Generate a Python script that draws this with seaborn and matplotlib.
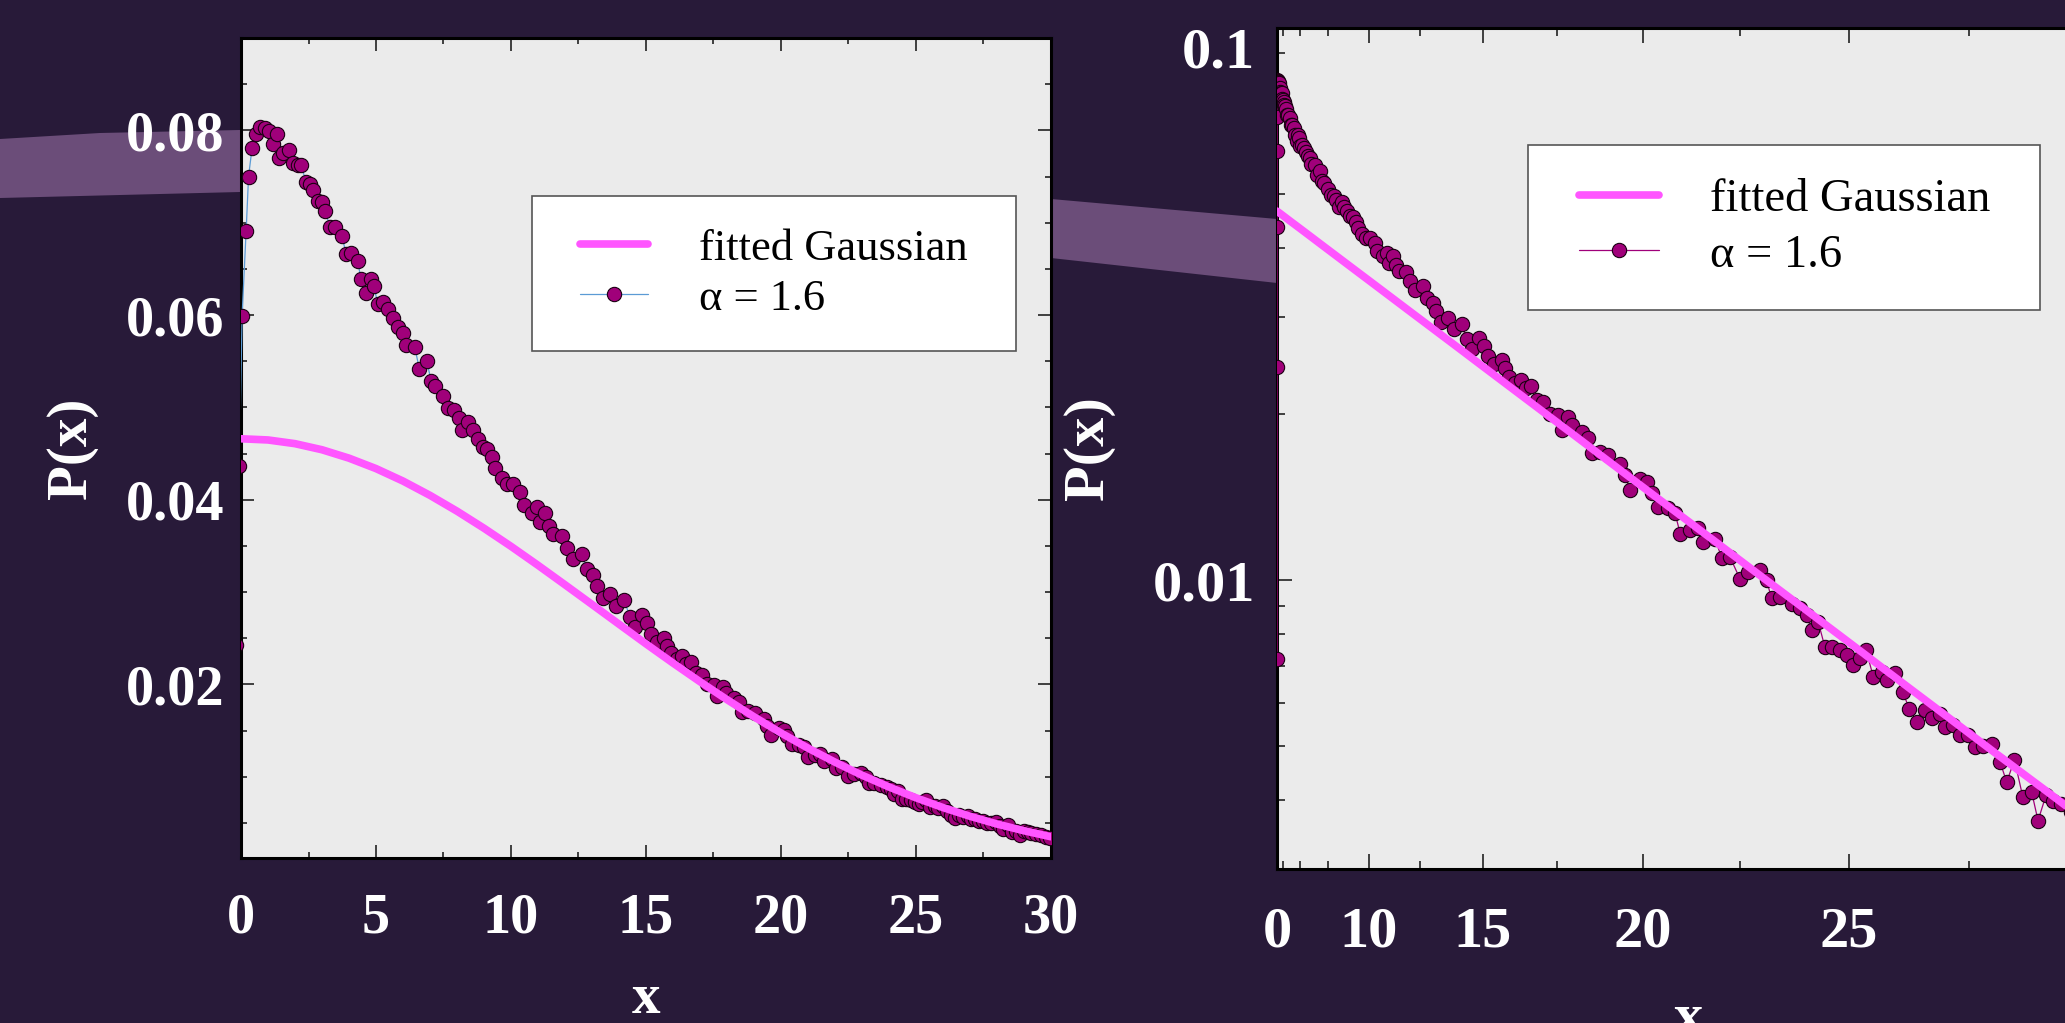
import numpy as np
import matplotlib
matplotlib.use("Agg")
import matplotlib.pyplot as plt
import seaborn as sns
from matplotlib.patches import Polygon
from matplotlib.path import Path
from matplotlib.lines import Line2D
from matplotlib.legend_handler import HandlerLine2D
from matplotlib.ticker import (MultipleLocator, FixedLocator, FixedFormatter,
                               NullFormatter, FuncFormatter, FormatStrFormatter)

x_data = [-0.3, -0.2, -0.06, 0.04, 0.19, 0.28, 0.41, 0.56, 0.70, 0.89,
          1.04, 1.17, 1.32, 1.41, 1.54, 1.77, 1.91, 2.10, 2.22, 2.41,
          2.56, 2.67, 2.84, 3.00, 3.11, 3.30, 3.48, 3.74, 3.89, 4.07,
          4.32, 4.44, 4.63, 4.81, 4.93, 5.06, 5.25, 5.43, 5.62, 5.80,
          5.99, 6.10, 6.44, 6.60, 6.88, 7.04, 7.20, 7.48, 7.65, 7.89,
          8.06, 8.20, 8.40, 8.58, 8.77, 8.96, 9.10, 9.29, 9.41, 9.66,
          9.84, 10.08, 10.33, 10.48, 10.77, 10.96, 11.07, 11.26, 11.41, 11.56,
          11.88, 12.06, 12.30, 12.62, 12.80, 13.04, 13.20, 13.40, 13.67, 13.90,
          14.20, 14.40, 14.60, 14.84, 15.03, 15.20, 15.40, 15.67, 15.79, 15.93,
          16.13, 16.32, 16.50, 16.65, 16.85, 17.06, 17.27, 17.53, 17.64, 17.84,
          17.95, 18.25, 18.44, 18.55, 18.79, 19.03, 19.36, 19.50, 19.64, 19.92,
          20.10, 20.24, 20.41, 20.68, 20.86, 20.99, 21.25, 21.46, 21.58, 21.88,
          22.05, 22.25, 22.49, 22.70, 22.98, 23.13, 23.25, 23.45, 23.72, 23.91,
          24.06, 24.17, 24.32, 24.47, 24.62, 24.81, 24.95, 25.10, 25.24, 25.37,
          25.53, 25.71, 25.81, 25.99, 26.15, 26.29, 26.44, 26.61, 26.75, 26.92,
          27.02, 27.19, 27.32, 27.49, 27.62, 27.78, 27.95, 28.11, 28.24, 28.39,
          28.55, 28.72, 28.84, 28.99, 29.13, 29.27, 29.45, 29.62, 29.80, 29.95]
p_data = [0.0072, 0.0243, 0.0437, 0.0599, 0.0691, 0.0750, 0.0781, 0.0796, 0.0804, 0.0803,
          0.0799, 0.0785, 0.0796, 0.0770, 0.0775, 0.0779, 0.0765, 0.0762, 0.0763, 0.0744,
          0.0742, 0.0735, 0.0724, 0.0722, 0.0713, 0.0695, 0.0695, 0.0686, 0.0666, 0.0667,
          0.0659, 0.0639, 0.0624, 0.0639, 0.0631, 0.0612, 0.0614, 0.0607, 0.0597, 0.0587,
          0.0581, 0.0567, 0.0565, 0.0542, 0.0550, 0.0529, 0.0523, 0.0512, 0.0499, 0.0497,
          0.0488, 0.0475, 0.0484, 0.0475, 0.0466, 0.0457, 0.0455, 0.0446, 0.0434, 0.0424,
          0.0417, 0.0417, 0.0408, 0.0394, 0.0386, 0.0392, 0.0376, 0.0386, 0.0372, 0.0363,
          0.0361, 0.0348, 0.0336, 0.0341, 0.0325, 0.0318, 0.0307, 0.0294, 0.0298, 0.0285,
          0.0291, 0.0273, 0.0262, 0.0275, 0.0266, 0.0255, 0.0246, 0.02505, 0.0242, 0.02335,
          0.02272, 0.02303, 0.02225, 0.02246, 0.02119, 0.02104, 0.02004, 0.01990, 0.01869, 0.01976,
          0.01909, 0.01857, 0.01806, 0.01697, 0.01708, 0.01685, 0.01627, 0.01550, 0.01456, 0.01528,
          0.01507, 0.01436, 0.01358, 0.01349, 0.01321, 0.01215, 0.01232, 0.01241, 0.01174, 0.01190,
          0.01095, 0.01102, 0.01007, 0.01035, 0.01042, 0.01000, 0.00927, 0.00933, 0.00907, 0.00889,
          0.00865, 0.00812, 0.00841, 0.00757, 0.00757, 0.00747, 0.00731, 0.00702, 0.00722, 0.00749,
          0.00668, 0.00682, 0.00659, 0.00678, 0.00627, 0.00585, 0.00554, 0.00581, 0.00562, 0.00573,
          0.00542, 0.00546, 0.00524, 0.00524, 0.00499, 0.00502, 0.00506, 0.00469, 0.00431, 0.00473,
          0.00405, 0.00413, 0.00367, 0.00408, 0.00399, 0.00394, 0.0038, 0.0037, 0.0035, 0.0034]

# fitted Gaussian curve, read at unit steps
x_fit = list(range(31))
p_fit = [0.04660, 0.04647, 0.04607, 0.04541, 0.04450, 0.04337, 0.04202, 0.04047, 0.03876, 0.03691,
         0.03495, 0.03290, 0.03079, 0.02866, 0.02652, 0.02439, 0.02231, 0.02029, 0.01835, 0.01649,
         0.01474, 0.01310, 0.01158, 0.01017, 0.00889, 0.00772, 0.00666, 0.00572, 0.00488, 0.00415,
         0.00350]

label_fit = "fitted Gaussian"
label_data = "\u03b1 = 1.6"
right_xticks = [0, 10, 15, 20, 25, 30]
right_xticklabels = ["0", "10", "15", "20", "25", "30"]

sns.set_style("ticks")
plt.rcParams["font.family"] = ["Liberation Serif", "DejaVu Serif"]
plt.rcParams["font.weight"] = "bold"

W, H = 2065, 1023
bg = "#281a39"
fig = plt.figure(figsize=(W / 100, H / 100), dpi=100, facecolor=bg)

# light purple band of the slide background
band = [(0, 139), (100, 133), (240, 130), (1051, 199), (1277, 219), (1450, 230),
        (1450, 295), (1277, 283), (1051, 258), (240, 192), (0, 198)]
fig.add_artist(Polygon([(px / W, 1 - py / H) for px, py in band], closed=True,
                       transform=fig.transFigure, facecolor="#6b4d79",
                       edgecolor="none", zorder=-1))

ax1 = fig.add_axes([241 / W, 1 - 858 / H, 810 / W, 820 / H])
ax2 = fig.add_axes([1277 / W, 1 - 869 / H, 823.5 / W, 841 / H])


def draw(ax, line_color):
    ax.set_facecolor("#ebebeb")
    sns.lineplot(x=x_fit, y=p_fit, ax=ax, color="#ff55ff", linewidth=5.5,
                 zorder=4, label=label_fit, estimator=None, sort=False)
    sns.lineplot(x=x_data, y=p_data, ax=ax, color=line_color, linewidth=0.9,
                 marker="o", markersize=10.3, markerfacecolor="#a0007a",
                 markeredgecolor="#1a0012", markeredgewidth=0.8, zorder=3,
                 label=label_data, estimator=None, sort=False)
    for s in ax.spines.values():
        s.set_visible(True)
        s.set_color("black")
        s.set_linewidth(2.2)


def wide_frame(extra):
    # square legend frame with more room left and right than top and bottom
    def box(x0, y0, width, height, mutation_size):
        dx = extra * mutation_size
        return Path([(x0 - dx, y0), (x0 + width + dx, y0), (x0 + width + dx, y0 + height),
                     (x0 - dx, y0 + height), (x0 - dx, y0)], closed=True)
    return box


def style_legend(ax, anchor, size, pad, extra, hlen, htp, lsp):
    leg = ax.legend(loc="upper left", bbox_to_anchor=anchor,
                    bbox_transform=fig.transFigure, frameon=True, fancybox=False,
                    framealpha=1, facecolor="white", edgecolor="#555555",
                    prop={"family": "Liberation Serif", "size": size, "weight": "normal"},
                    borderpad=pad, handlelength=hlen, handletextpad=htp,
                    labelspacing=lsp, borderaxespad=0,
                    handler_map={Line2D: HandlerLine2D()})
    leg.get_frame().set_linewidth(1.2)
    leg.get_frame().set_boxstyle(wide_frame(extra))
    for t in leg.get_texts():
        t.set_color("black")


# left panel: linear axes
draw(ax1, "#5b9bd5")
ax1.set_xlim(0, 30)
ax1.set_ylim(0.0012, 0.09)
ax1.xaxis.set_major_locator(MultipleLocator(5))
ax1.xaxis.set_minor_locator(MultipleLocator(2.5))
ax1.yaxis.set_major_locator(MultipleLocator(0.02))
ax1.yaxis.set_minor_locator(MultipleLocator(0.005))
ax1.yaxis.set_major_formatter(FormatStrFormatter("%.2f"))
ax1.tick_params(which="both", direction="in", top=True, right=True,
                color="#222222", labelcolor="white", width=1.2, labelsize=40.5)
ax1.tick_params(which="major", length=9.5)
ax1.tick_params(which="minor", length=4.5)
ax1.tick_params(axis="x", which="major", pad=25)
ax1.tick_params(axis="y", which="major", pad=12)
ax1.set_xlabel("x", fontsize=41, color="white", fontweight="bold")
ax1.set_ylabel("P(x)", fontsize=41, color="white", fontweight="bold")
ax1.xaxis.set_label_coords(0.5, -0.14)
ax1.yaxis.set_label_coords(-0.177, 0.5)
style_legend(ax1, (548 / W, 1 - 196 / H), 32, 0.73, 0.37, 1.53, 1.13, 0.23)

# right panel: log P against x squared
draw(ax2, "#a0007a")
ax2.set_xscale("function", functions=(lambda v: np.asarray(v) ** 2,
                                      lambda v: np.sqrt(np.abs(v))))
ax2.set_yscale("log")
ax2.set_xlim(0, 30)
ax2.set_ylim(0.003, 0.1)
ax2.xaxis.set_major_locator(FixedLocator(right_xticks))
ax2.xaxis.set_major_formatter(FixedFormatter(right_xticklabels))
ax2.xaxis.set_minor_locator(FixedLocator([2.5, 5, 7.5, 12.5, 17.5, 22.5, 27.5]))
ax2.yaxis.set_major_formatter(FuncFormatter(lambda v, _: f"{v:g}"))
ax2.yaxis.set_minor_formatter(NullFormatter())
ax2.tick_params(which="both", direction="in", top=True, right=True,
                color="#222222", labelcolor="white", width=1.2, labelsize=42)
ax2.tick_params(which="major", length=10.5)
ax2.tick_params(which="minor", length=5.5)
ax2.tick_params(axis="x", which="major", pad=27)
ax2.tick_params(axis="y", which="major", pad=16)
ax2.set_xlabel("x", fontsize=42, color="white", fontweight="bold")
ax2.set_ylabel("P(x)", fontsize=42, color="white", fontweight="bold")
ax2.xaxis.set_label_coords(0.5, -0.147)
ax2.yaxis.set_label_coords(-0.197, 0.5)
style_legend(ax2, (1545 / W, 1 - 145 / H), 33.5, 0.72, 0.36, 1.74, 1.08, 0.28)

# the top label "0.1" hangs below its tick
for tick, loc in zip(ax2.yaxis.get_major_ticks(), ax2.yaxis.get_majorticklocs()):
    if abs(loc - 0.1) < 1e-9:
        tick.label1.set_verticalalignment("top")

fig.savefig("out.png", dpi=100, facecolor=fig.get_facecolor())
